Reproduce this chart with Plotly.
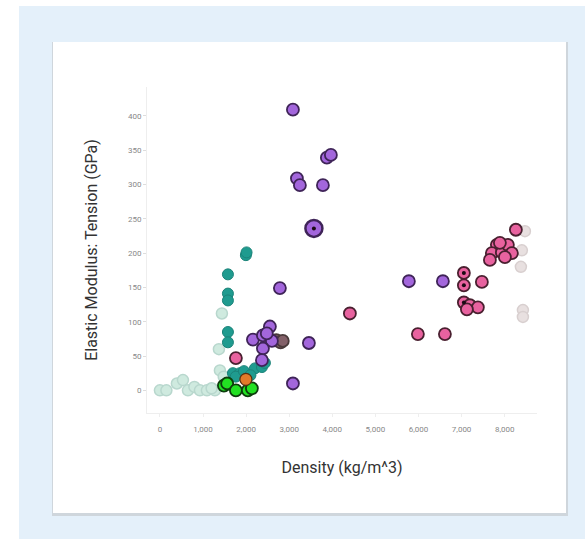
import plotly.graph_objects as go

# ---- data ----
mint_x = [0, 150, 394, 534, 650, 800, 928, 1090, 1276, 1392, 1369, 1438, 1200, 1480]
mint_y = [0, 0, 10, 15, 0, 5, 0, 0, 0, 29, 60, 112, 3, 20]

teal_x = [1995, 2010, 1578, 1578, 1578, 1578, 1578, 1694, 1856, 1760, 2204, 2367, 2436, 1950, 2100]
teal_y = [197, 201, 169, 141, 131, 85, 70, 25, 25, 20, 32, 34, 40, 28, 22]

green_x = [1485, 1560, 1763, 2040, 2134]
green_y = [7, 10, 0, 0, 3]

orange_x = [1995]
orange_y = [16]

purple_x = [3086, 3179, 3248, 3782, 3874, 3967, 2784, 2158, 2390, 2552, 2598, 2390, 2367, 2480, 3457, 3086, 5777, 6566]
purple_y = [409, 309, 299, 299, 339, 343, 149, 74, 80, 93, 72, 61, 44, 83, 69, 10, 159, 159]

purple_big_x = [3573]
purple_big_y = [236]

dark_x = [2700, 2800, 2850]
dark_y = [73, 70, 72]

pink_x = [1763, 4408, 5986, 6613, 7053, 7053, 7471, 7053, 7193, 7378, 7123,
          8260, 7819, 7703, 7657, 7935, 8074, 8167, 8005, 7889]
pink_y = [47, 112, 82, 82, 171, 153, 158, 128, 124, 121, 118,
          234, 212, 200, 190, 201, 212, 200, 194, 215]

dot_x = [3573, 7053, 7053, 7053]
dot_y = [236, 171, 153, 128]

grey_x = [8469, 8399, 8376, 8423, 8423]
grey_y = [232, 204, 180, 117, 107]

x_ticks = [0, 1000, 2000, 3000, 4000, 5000, 6000, 7000, 8000]
y_ticks = [0, 50, 100, 150, 200, 250, 300, 350, 400]

fig = go.Figure()


def add(x, y, fill, line, size=12, lw=1.5, opacity=1.0):
    fig.add_trace(go.Scatter(
        x=x, y=y, mode="markers", opacity=opacity, hoverinfo="skip",
        marker=dict(size=size, color=fill, line=dict(color=line, width=lw)),
        showlegend=False))


add(mint_x, mint_y, "#a9d9c6", "#7fb8a6", 11, 1.5, 0.55)
add(grey_x, grey_y, "#d9cccc", "#bfb0b0", 11, 1.5, 0.6)
add(teal_x, teal_y, "#14968a", "#0f7d72", 11, 1, 0.95)
add(green_x, green_y, "#22e022", "#0d3d0d", 12, 1.8)
add(orange_x, orange_y, "#e27a2a", "#5a3010", 12, 1.2)
add(dark_x, dark_y, "#6e4650", "#2a1818", 12, 1.8, 0.85)
add(purple_x, purple_y, "#a366dc", "#3f2458", 12, 1.8)
add(purple_big_x, purple_big_y, "#a366dc", "#3f2458", 17, 2.5)
add(pink_x, pink_y, "#e8629f", "#4a2030", 12, 1.8)
add(dot_x, dot_y, "#1a0a14", "#1a0a14", 4, 0)

# plot area (pixels): left 147, right 537, top 87, bottom 413
L, R, T, B = 147, 537, 87, 413
W, H = 585, 539
pw, ph = R - L, B - T


def px(xp):
    return (xp - L) / pw


def py(yp):
    return (B - yp) / ph


shapes = [
    # light blue page
    dict(type="rect", xref="paper", yref="paper", x0=px(19), x1=px(620), y0=py(580), y1=py(6),
         fillcolor="#e4f0fa", line=dict(width=0), layer="below"),
    # card shadow
    dict(type="rect", xref="paper", yref="paper", x0=px(52), x1=px(568), y0=py(516), y1=py(42),
         fillcolor="#cfd6dc", line=dict(width=0), layer="below"),
    # card
    dict(type="rect", xref="paper", yref="paper", x0=px(53), x1=px(566), y0=py(513), y1=py(42),
         fillcolor="#ffffff", line=dict(width=0), layer="below"),
]

fig.update_layout(
    width=W, height=H, autosize=False,
    margin=dict(l=L, r=W - R, t=T, b=H - B, pad=0),
    paper_bgcolor="#ffffff", plot_bgcolor="rgba(0,0,0,0)",
    shapes=shapes,
    font=dict(family="Roboto, Arial, sans-serif", color="#333333"),
    xaxis=dict(
        range=[-300, 8750], tickvals=x_ticks, tickformat=",",
        showgrid=False, zeroline=False,
        showline=True, linecolor="#eeeeee", linewidth=1,
        ticks="outside", ticklen=3, tickcolor="#eeeeee",
        ticklabelstandoff=5,
        tickfont=dict(size=8, color="#888888"),
        title=dict(text="Density (kg/m^3)", font=dict(size=16, color="#333333"), standoff=29),
    ),
    yaxis=dict(
        range=[-33, 442], tickvals=y_ticks,
        showgrid=False, zeroline=False,
        showline=True, linecolor="#eeeeee", linewidth=1,
        ticks="outside", ticklen=3, tickcolor="#dddddd",
        tickfont=dict(size=8, color="#888888"),
        title=dict(text="Elastic Modulus: Tension (GPa)", font=dict(size=16, color="#333333"), standoff=26),
    ),
)

fig.write_html("out.html", config={"displayModeBar": False},
               post_script="document.body.style.margin='0';document.body.style.overflow='hidden';")
